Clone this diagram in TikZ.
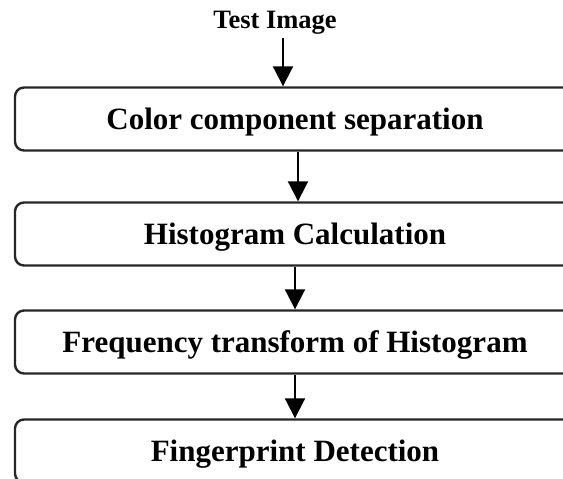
\documentclass[tikz,border=0pt]{standalone}
\usepackage{fontspec}
\setmainfont{Liberation Serif}
\usetikzlibrary{arrows.meta}
\tikzset{
	stage/.style={draw=black!85, line width=2.4pt, rounded corners=9pt, minimum width=560pt, minimum height=63pt, inner sep=0pt, text depth=0pt, font=\fontsize{31}{36}\selectfont\bfseries},
	flow/.style={line width=2pt, -{Triangle[width=20pt,length=20pt]}}
}
\begin{document}
\begin{tikzpicture}[x=1pt,y=-1pt]
	\useasboundingbox (0,0) rectangle (563,479);
	\clip (0,0) rectangle (563,479);
	
	\node[font=\fontsize{26.5}{30}\selectfont\bfseries] (inp) at (275,23) {Test Image};
	
	\node[stage] (colsep) at (295,119) {Color component separation};
	\node[stage] (histcalc) at (295,234) {Histogram Calculation};
	\node[stage] (freqtr) at (295,342) {Frequency transform of Histogram};
	\node[stage] (fpdet) at (295,451) {Fingerprint Detection};
	
	\draw[flow] ([xshift=8pt]inp.south) -- ([xshift=8pt]inp.south |- colsep.north);
	\draw[flow] ([xshift=3pt]colsep.south) -- ([xshift=3pt]histcalc.north);
	\draw[flow] (histcalc.south) -- (freqtr.north);
	\draw[flow] (freqtr.south) -- (fpdet.north);
	
\end{tikzpicture}
\end{document}
